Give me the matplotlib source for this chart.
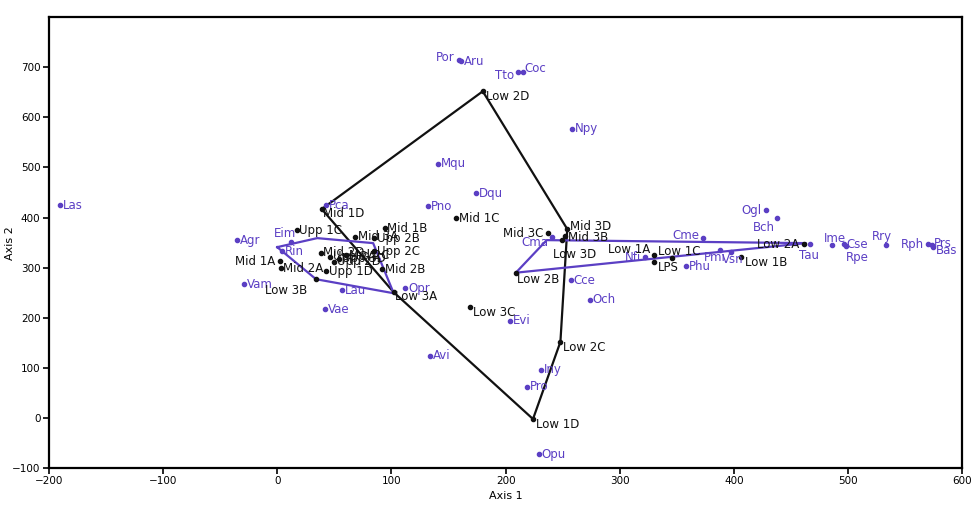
import matplotlib.pyplot as plt

# black points (sites)
site_names = ["Low 2D", "Mid 1D", "Upp 1C", "Mid 3A", "Mid 1B", "Upp 2B", "Upp 2C",
              "Mid 2B", "Upp 1D", "Mid 2A", "Low 3B", "Mid 1A", "Mid 2D", "Upp 2A",
              "Upp 3D", "Mid 2C", "Upp 2D", "Mid 1C", "Mid 3C", "Mid 3D", "Mid 3B",
              "Low 3D", "Low 3C", "Low 3A", "Low 2C", "Low 1D", "Low 2B", "Low 1A",
              "LPS", "Low 1C", "Low 2A", "Low 1B"]
site_x = [180, 39, 17, 68, 94, 85, 85, 92, 43, 3, 34, 2, 38, 46,
          54, 60, 50, 157, 237, 254, 252, 249, 169, 102, 248, 224, 209, 330,
          330, 346, 461, 406]
site_y = [652, 417, 375, 362, 379, 359, 333, 297, 293, 299, 277, 313, 330, 322,
          318, 325, 312, 399, 369, 377, 363, 355, 221, 251, 152, -2, 290, 325,
          311, 319, 347, 321]

# purple points (species)
sp_names = ["Las", "Agr", "Eim", "Rin", "Pca", "Pno", "Mqu", "Dqu", "Por", "Aru",
            "Tto", "Coc", "Npy", "Cma", "Cce", "Och", "Evi", "Avi", "Iny", "Pro",
            "Opu", "Opr", "Lau", "Vae", "Vam", "Nfi", "Cme", "Phu", "Pmi", "Vsn",
            "Ogl", "Bch", "Ime", "Tau", "Cse", "Rpe", "Rry", "Rph", "Prs", "Bas"]
sp_x = [-190, -35, 12, 4, 43, 132, 141, 174, 159, 161,
        211, 215, 258, 241, 257, 274, 204, 134, 231, 219,
        229, 112, 57, 42, -29, 322, 373, 358, 388, 397,
        428, 438, 486, 467, 496, 498, 533, 570, 573, 574]
sp_y = [425, 355, 352, 333, 425, 423, 507, 449, 714, 712,
        690, 690, 577, 361, 275, 236, 194, 124, 96, 62,
        -72, 259, 255, 217, 267, 321, 359, 303, 335, 331,
        415, 399, 345, 347, 347, 343, 345, 347, 345, 342]

# hull outlines
black_hull = ["Low 2D", "Mid 3D", "Low 2C", "Low 1D", "Low 3A", "Mid 1D"]
left_hull_x = [0, 35, 84, 102, 34]
left_hull_y = [341, 359, 349, 249, 277]
right_hull_x = [209, 236, 463]
right_hull_y = [290, 355, 349]

black = "#111111"
purple = "#5b3fc4"

# label offsets in points (default is to the right of the dot)
site_off = {"Mid 1A": (-3, 0, "right"), "Mid 3C": (-3, 0, "right"),
            "Low 3D": (-6, -10, "left"), "Low 1A": (-3, 4, "right"),
            "Low 1C": (-10, 5, "left"), "Low 2A": (-3, 0, "right"),
            "Low 3B": (-6, -8, "right"), "Low 3A": (1, -3, "left"),
            "Low 2B": (1, -5, "left"), "Mid 1D": (1, -3, "left"),
            "Low 2D": (2, -4, "left"), "Low 1B": (3, -4, "left"),
            "LPS": (3, -4, "left"), "Low 1D": (2, -4, "left"),
            "Low 2C": (2, -4, "left"), "Low 3C": (2, -4, "left"),
            "Mid 3B": (2, -1, "left"), "Mid 3D": (2, 2, "left")}
sp_off = {"Por": (-3, 2, "right"), "Tto": (-3, -2, "right"), "Cma": (-3, -4, "right"),
          "Nfi": (-3, 0, "right"), "Cme": (-3, 2, "right"), "Ogl": (-3, 0, "right"),
          "Bch": (-2, -7, "right"), "Ime": (-6, 5, "left"), "Tau": (-8, -8, "left"),
          "Rpe": (0, -8, "left"), "Rry": (-10, 6, "left"), "Rph": (-3, 0, "right"),
          "Eim": (-12, 6, "left"), "Prs": (2, 1, "left"), "Bas": (2, -3, "left"),
          "Pmi": (-12, -5, "left"), "Vsn": (-6, -5, "left"), "Coc": (1, 3, "left")}

fig, ax = plt.subplots(figsize=(9.77, 5.19), dpi=100)
fig.subplots_adjust(left=0.050, right=0.985, top=0.967, bottom=0.098)

# outlines
pts = dict(zip(site_names, zip(site_x, site_y)))
hx = [pts[n][0] for n in black_hull] + [pts[black_hull[0]][0]]
hy = [pts[n][1] for n in black_hull] + [pts[black_hull[0]][1]]
ax.plot(hx, hy, color=black, lw=1.6, zorder=2)
ax.plot(left_hull_x + left_hull_x[:1], left_hull_y + left_hull_y[:1], color=purple, lw=1.6, zorder=2)
ax.plot(right_hull_x + right_hull_x[:1], right_hull_y + right_hull_y[:1], color=purple, lw=1.6, zorder=2)

ax.scatter(sp_x, sp_y, s=9, color=purple, zorder=3)
ax.scatter(site_x, site_y, s=9, color=black, zorder=3)

for n, x, y in zip(sp_names, sp_x, sp_y):
    dx, dy, ha = sp_off.get(n, (2, 0, "left"))
    ax.annotate(n, (x, y), xytext=(dx, dy), textcoords="offset points",
                ha=ha, va="center", fontsize=8.5, color=purple, zorder=4)
for n, x, y in zip(site_names, site_x, site_y):
    dx, dy, ha = site_off.get(n, (2, 0, "left"))
    ax.annotate(n, (x, y), xytext=(dx, dy), textcoords="offset points",
                ha=ha, va="center", fontsize=8.5, color=black, zorder=4)

ax.set_xlim(-200, 600)
ax.set_ylim(-100, 800)
ax.set_xticks(range(-200, 601, 100))
ax.set_yticks(range(-100, 701, 100))
ax.set_xlabel("Axis 1", fontsize=8, labelpad=3)
ax.set_ylabel("Axis 2", fontsize=8)
ax.yaxis.set_label_coords(-0.037, 0.5)
ax.tick_params(labelsize=7.5, length=4, width=1.2, pad=2)
for s in ax.spines.values():
    s.set_linewidth(1.6)

plt.savefig("out.png", dpi=100)
